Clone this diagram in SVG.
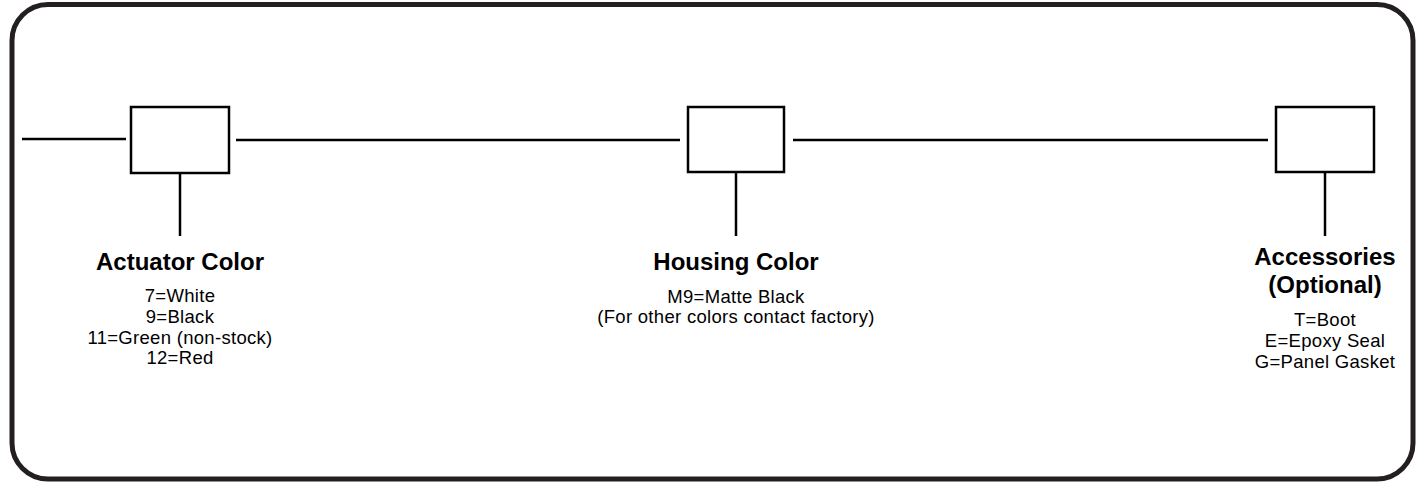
<svg xmlns="http://www.w3.org/2000/svg" width="1421" height="487" viewBox="0 0 1421 487">
<style>
.frame{fill:none;stroke:#231f20;stroke-width:5}
.box{fill:#fff;stroke:#000;stroke-width:2.5}
.ln{stroke:#000;stroke-width:2.5;fill:none}
.t{font-family:"Liberation Sans",Arial,sans-serif;font-size:24px;font-weight:bold;text-anchor:middle;fill:#000}
.s{font-family:"Liberation Sans",Arial,sans-serif;font-size:18.5px;letter-spacing:0.3px;text-anchor:middle;fill:#000}
</style>
<rect x="0" y="0" width="1421" height="487" fill="#fff"/>
<rect class="frame" x="12" y="4.5" width="1401" height="474.5" rx="36" ry="36"/>
<g id="connectors">
<line class="ln" x1="22" y1="139" x2="126" y2="139"/>
<line class="ln" x1="236" y1="140" x2="680" y2="140"/>
<line class="ln" x1="793" y1="140" x2="1268" y2="140"/>
<line class="ln" x1="180" y1="173" x2="180" y2="236"/>
<line class="ln" x1="736" y1="172" x2="736" y2="236"/>
<line class="ln" x1="1325" y1="172" x2="1325" y2="236"/>
</g>
<g id="actuator">
<rect class="box" x="131" y="107" width="98" height="66"/>
<text class="t" x="180" y="270">Actuator Color</text>
<text class="s" x="180" y="302">7=White</text>
<text class="s" x="180" y="323">9=Black</text>
<text class="s" x="180" y="343.5">11=Green (non-stock)</text>
<text class="s" x="180" y="364">12=Red</text>
</g>
<g id="housing">
<rect class="box" x="688" y="107" width="96" height="65"/>
<text class="t" x="736" y="270">Housing Color</text>
<text class="s" x="736" y="302.5">M9=Matte Black</text>
<text class="s" x="736" y="323">(For other colors contact factory)</text>
</g>
<g id="accessories">
<rect class="box" x="1276" y="107" width="98" height="65"/>
<text class="t" x="1325" y="265">Accessories</text>
<text class="t" x="1325" y="292.5">(Optional)</text>
<text class="s" x="1325" y="326">T=Boot</text>
<text class="s" x="1325" y="347">E=Epoxy Seal</text>
<text class="s" x="1325" y="368">G=Panel Gasket</text>
</g>
</svg>
